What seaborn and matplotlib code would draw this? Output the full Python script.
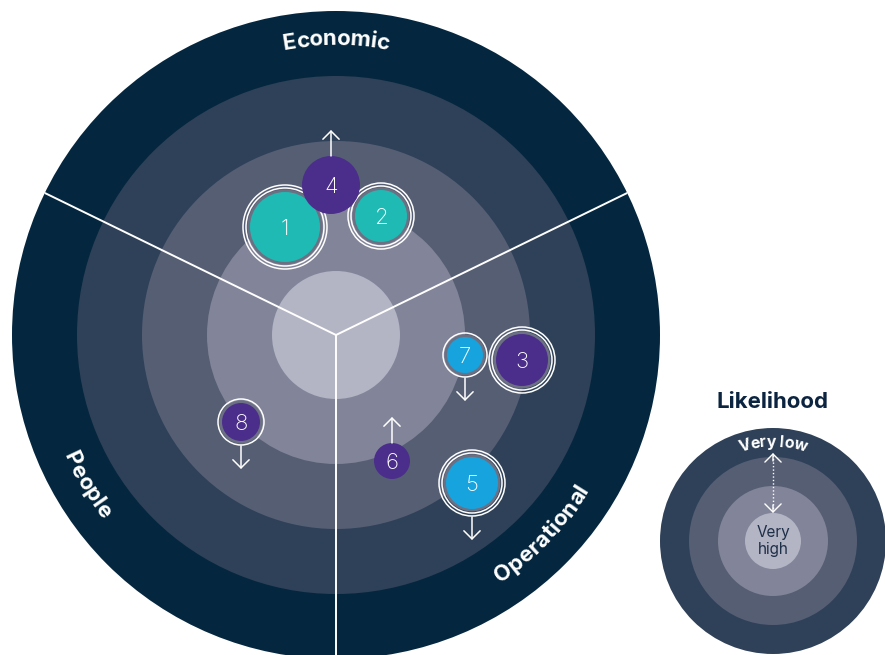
import matplotlib.pyplot as plt
import seaborn as sns
import pandas as pd
import numpy as np
from matplotlib.patches import Circle
from matplotlib.font_manager import FontProperties

sns.set_theme(style="white")
plt.rcParams['font.family'] = ['Inter', 'DejaVu Sans']

# chart units: 1 unit = 1 px, origin at centre of the big target
ring_radii = [324, 259, 194, 129, 64]
ring_colors = ['#04273f', '#2f4158', '#565e74', '#828599', '#b3b5c4']
divider_angles = [26, 154, 270]

sector_names = ['Economic', 'People', 'Operational']
sector_angle = [90, 211, -44]
sector_radius = [296, 292, 291]
sector_clockwise = [True, False, False]

risk_ids = [1, 2, 3, 4, 5, 6, 7, 8]
risk_x = [-51, 45, 186, -5, 136, 56, 129, -95]
risk_y = [108, 119, -25, 150, -148, -126, -20, -87]
risk_r = [35, 26, 26, 29, 26, 18, 18, 19]
risk_group = ['teal', 'teal', 'purple', 'purple', 'blue', 'purple', 'blue', 'purple']
risk_rings = [2, 2, 2, 0, 2, 0, 1, 1]
risk_trend = ['', '', '', 'up', 'down', 'up', 'down', 'down']

palette = {'teal': '#1fbab4', 'purple': '#4b2e8b', 'blue': '#17a3de'}

legend_center = (437, -206)
legend_radii = [113, 84, 55, 28]
legend_colors = ['#2f4158', '#565e74', '#828599', '#b3b5c4']

df = pd.DataFrame({'id': risk_ids, 'x': risk_x, 'y': risk_y, 'r': risk_r,
                   'group': risk_group, 'rings': risk_rings, 'trend': risk_trend})

fig = plt.figure(figsize=(8.85, 6.55), dpi=100)
ax = fig.add_axes([0, 0, 1, 1])
ax.set_xlim(-336, 549)
ax.set_ylim(-320, 335)
ax.axis('off')
renderer = fig.canvas.get_renderer()


def curved_text(text, cx, cy, radius, theta0, clockwise, size, color, weight='bold'):
    # lay the letters one by one along an arc (px == data units here)
    prop = FontProperties(family=['Inter', 'DejaVu Sans'], size=size, weight=weight)
    width = lambda s: renderer.get_text_width_height_descent(s, prop, ismath=False)[0] if s else 0
    total = width(text)
    for i, ch in enumerate(text):
        if ch == ' ':
            continue
        s = width(text[:i]) + width(ch) / 2 - total / 2
        if clockwise:
            th = theta0 - np.rad2deg(s / radius)
            rot = th - 90
        else:
            th = theta0 + np.rad2deg(s / radius)
            rot = th + 90
        t = np.deg2rad(th)
        ax.text(cx + radius * np.cos(t), cy + radius * np.sin(t), ch, fontproperties=prop,
                color=color, ha='center', va='center', rotation=rot,
                rotation_mode='anchor', zorder=6)


ARROW = '->,head_length=0.45,head_width=0.45'

# concentric rings
for rad, col in zip(ring_radii, ring_colors):
    ax.add_patch(Circle((0, 0), rad, color=col, lw=0, zorder=1))

# sector dividers
for a in divider_angles:
    t = np.deg2rad(a)
    ax.plot([0, ring_radii[0] * np.cos(t)], [0, ring_radii[0] * np.sin(t)],
            color='white', lw=1.4, zorder=2, solid_capstyle='butt')

for name, ang, rad, cw in zip(sector_names, sector_angle, sector_radius, sector_clockwise):
    curved_text(name, 0, 0, rad, ang, cw, 16, 'white')

# grey halo + white rings behind bubbles
for _, row in df.iterrows():
    if row['rings'] == 0:
        continue
    ax.add_patch(Circle((row['x'], row['y']), row['r'] + 2.5, color='#6c7083', lw=0, zorder=3))
    for k in range(row['rings']):
        ax.add_patch(Circle((row['x'], row['y']), row['r'] + 4 + 3 * k, fill=False,
                            ec='white', lw=1.1, zorder=3.5))

# bubbles (1 unit = 1 px = 0.72 pt)
sizes = {r: (1.44 * r) ** 2 for r in set(risk_r)}
sns.scatterplot(data=df, x='x', y='y', hue='group', palette=palette, size='r',
                sizes=sizes, legend=False, linewidth=0, ax=ax, zorder=4)
ax.set_xlim(-336, 549)
ax.set_ylim(-320, 335)

for _, row in df.iterrows():
    ax.text(row['x'], row['y'], str(row['id']), color='white', fontsize=16,
            fontweight='light', ha='center', va='center_baseline', zorder=6)
    outer = row['r'] + (4 + 3 * (row['rings'] - 1) if row['rings'] else 0)
    if row['trend'] == 'up':
        y0 = row['y'] + outer
        y1 = y0 + 26
    elif row['trend'] == 'down':
        y0 = row['y'] - outer - 1
        y1 = y0 - 23
    else:
        continue
    ax.annotate('', xy=(row['x'], y1), xytext=(row['x'], y0),
                arrowprops=dict(arrowstyle=ARROW, color='white', lw=1.1,
                                mutation_scale=13, shrinkA=0, shrinkB=0), zorder=5)

# likelihood key
lx, ly = legend_center
for rad, col in zip(legend_radii, legend_colors):
    ax.add_patch(Circle((lx, ly), rad, color=col, lw=0, zorder=1))
ax.text(lx, ly + 139, 'Likelihood', color='#0b2440', fontsize=16, fontweight='bold',
        ha='center', va='center')
curved_text('Very low', lx, ly, 99, 90, True, 11.5, 'white')
ax.text(lx, ly, 'Very\nhigh', color='#1e2f48', fontsize=11, ha='center', va='center',
        linespacing=1.1)
ax.plot([lx, lx], [ly + 86, ly + 30], color='white', lw=1, ls=(0, (1, 1.5)), zorder=3)
ax.annotate('', xy=(lx, ly + 88), xytext=(lx, ly + 80),
            arrowprops=dict(arrowstyle=ARROW, color='white', lw=1, mutation_scale=13,
                            shrinkA=0, shrinkB=0), zorder=4)
ax.annotate('', xy=(lx, ly + 28), xytext=(lx, ly + 36),
            arrowprops=dict(arrowstyle=ARROW, color='white', lw=1, mutation_scale=13,
                            shrinkA=0, shrinkB=0), zorder=4)

fig.savefig('out.png', dpi=100)
